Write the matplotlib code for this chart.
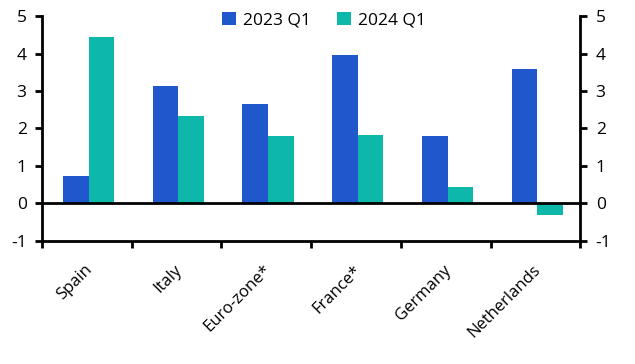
import numpy as np
import matplotlib.pyplot as plt
import matplotlib.transforms as mtransforms

countries = ['Spain', 'Italy', 'Euro-zone*', 'France*', 'Germany', 'Netherlands']
q1_2023 = [0.72, 3.13, 2.65, 3.97, 1.80, 3.60]
q1_2024 = [4.43, 2.33, 1.80, 1.83, 0.43, -0.30]

blue = '#2057cc'
teal = '#0db8aa'

plt.rcParams['font.family'] = ['Open Sans', 'DejaVu Sans']
plt.rcParams['font.size'] = 12.5
plt.rcParams['axes.unicode_minus'] = False

fig = plt.figure(figsize=(6.35, 3.64), dpi=100)
ax = fig.add_axes([0.066, 0.338, 0.848, 0.618])

x = np.arange(len(countries))
w = 0.285
ax.bar(x - w / 2 + 0.02, q1_2023, w, color=blue, label='2023 Q1', zorder=2)
ax.bar(x + w / 2 + 0.02, q1_2024, w, color=teal, label='2024 Q1', zorder=2)

ax.axhline(0, color='black', lw=2, zorder=3)
ax.set_ylim(-1, 5)
ax.set_xlim(-0.5, len(countries) - 0.5)
ax.set_yticks(range(-1, 6))

# tick marks between groups, labels at group centres
ax.set_xticks(x)
ax.set_xticklabels(countries, rotation=45, ha='right', rotation_mode='anchor', fontsize=12)
ax.tick_params(axis='x', which='major', length=0, pad=15)
shift = mtransforms.ScaledTranslation(-3 / 100, 0, fig.dpi_scale_trans)
for lab in ax.get_xticklabels():
    lab.set_transform(lab.get_transform() + shift)
ax.set_xticks(np.arange(-0.5, len(countries)), minor=True)
ax.tick_params(axis='x', which='minor', length=5, width=2, direction='out')
ax.tick_params(axis='y', length=5, width=2, direction='out', pad=6)

for s in ['left', 'right', 'bottom']:
    ax.spines[s].set_linewidth(2)
ax.spines['top'].set_visible(False)

ax2 = ax.twinx()
ax2.set_ylim(-1, 5)
ax2.set_yticks(range(-1, 6))
ax2.tick_params(axis='y', length=5, width=2, direction='out', pad=6)
for s in ax2.spines.values():
    s.set_visible(False)

fig.legend(loc='upper center', bbox_to_anchor=(0.51, 1.01), ncol=2, frameon=False,
           handlelength=0.8, handleheight=0.8, handletextpad=0.4, columnspacing=1.5)

fig.savefig('out.png', dpi=100)
